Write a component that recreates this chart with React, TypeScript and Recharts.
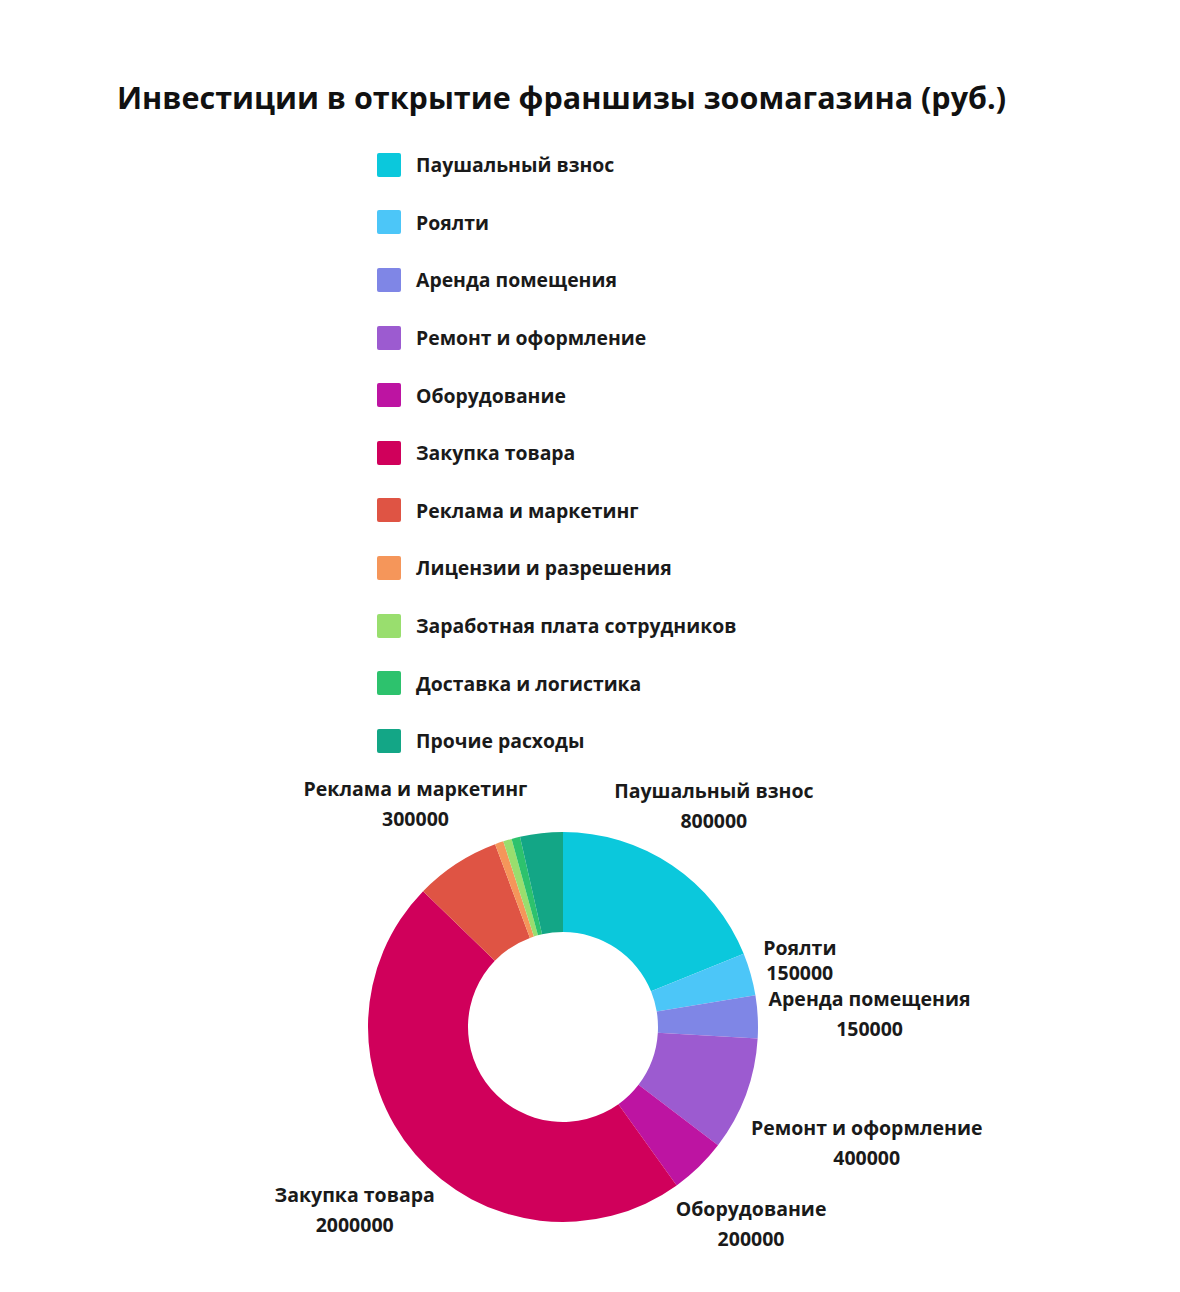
import React from 'react';
import { PieChart, Pie, Cell } from 'recharts';

const categories = [
  'Паушальный взнос',
  'Роялти',
  'Аренда помещения',
  'Ремонт и оформление',
  'Оборудование',
  'Закупка товара',
  'Реклама и маркетинг',
  'Лицензии и разрешения',
  'Заработная плата сотрудников',
  'Доставка и логистика',
  'Прочие расходы',
];

const amounts = [800000, 150000, 150000, 400000, 200000, 2000000, 300000, 30000, 30000, 30000, 150000];

const colors = [
  '#0BC8DC',
  '#4CC6F8',
  '#7F86E6',
  '#9C5BD0',
  '#BD14A2',
  '#D0005B',
  '#DF5444',
  '#F5965A',
  '#99DE6E',
  '#2DC26D',
  '#13A686',
];

// only these slices get an outside label
const labelled = ['Паушальный взнос', 'Роялти', 'Аренда помещения', 'Ремонт и оформление', 'Оборудование', 'Закупка товара', 'Реклама и маркетинг'];

const data = categories.map((name, i) => ({ name, value: amounts[i] }));

const FONT = '"Open Sans", "Noto Sans", sans-serif';
const RAD = Math.PI / 180;

// labels on the crowded right side sit at their own distance
const labelDist: Record<string, number> = {
  'Роялти': 51,
  'Аренда помещения': 112,
  'Ремонт и оформление': 129,
  'Закупка товара': 80,
};

const renderLabel = (props: any) => {
  const { cx, cy, midAngle, outerRadius, name, value } = props;
  if (!labelled.includes(name)) return null;
  const r = outerRadius + (labelDist[name] ?? 75);
  const x = cx + r * Math.cos(-midAngle * RAD);
  const y = cy + r * Math.sin(-midAngle * RAD);
  const gap = name === 'Роялти' ? 25 : 30;
  return (
    <text x={x} y={y} textAnchor="middle" fill="#1a1a1a" fontFamily={FONT} fontWeight={700} fontSize={19.5}>
      <tspan x={x} y={y - 5}>{name}</tspan>
      <tspan x={x} y={y - 5 + gap}>{value}</tspan>
    </text>
  );
};

function LegendList() {
  return (
    <div style={{ position: 'absolute', top: 128, left: 369, fontFamily: FONT }}>
      {categories.map((c, i) => (
        <div key={c} style={{ display: 'flex', alignItems: 'center', height: 57.6 }}>
          <span style={{ width: 24, height: 24, background: colors[i], borderRadius: 2, marginRight: 15 }} />
          <span style={{ fontSize: 19.4, fontWeight: 700, color: '#1a1a1a' }}>{c}</span>
        </div>
      ))}
    </div>
  );
}

export default function App() {
  return (
    <div style={{ position: 'relative', width: 1164, height: 1276, background: '#fff' }}>
      <PieChart width={1164} height={1276}>
        <Pie
          data={data}
          dataKey="value"
          nameKey="name"
          cx={550}
          cy={1014}
          innerRadius={95}
          outerRadius={195}
          startAngle={90}
          endAngle={-270}
          stroke="none"
          label={renderLabel}
          labelLine={false}
          isAnimationActive={false}
        >
          {data.map((d, i) => (
            <Cell key={d.name} fill={colors[i]} />
          ))}
        </Pie>
      </PieChart>
      <div
        style={{
          position: 'absolute',
          top: 68,
          left: 0,
          width: 1107,
          textAlign: 'center',
          fontFamily: FONT,
          fontWeight: 700,
          fontSize: 30.5,
          color: '#111',
        }}
      >
        Инвестиции в открытие франшизы зоомагазина (руб.)
      </div>
      <LegendList />
    </div>
  );
}
